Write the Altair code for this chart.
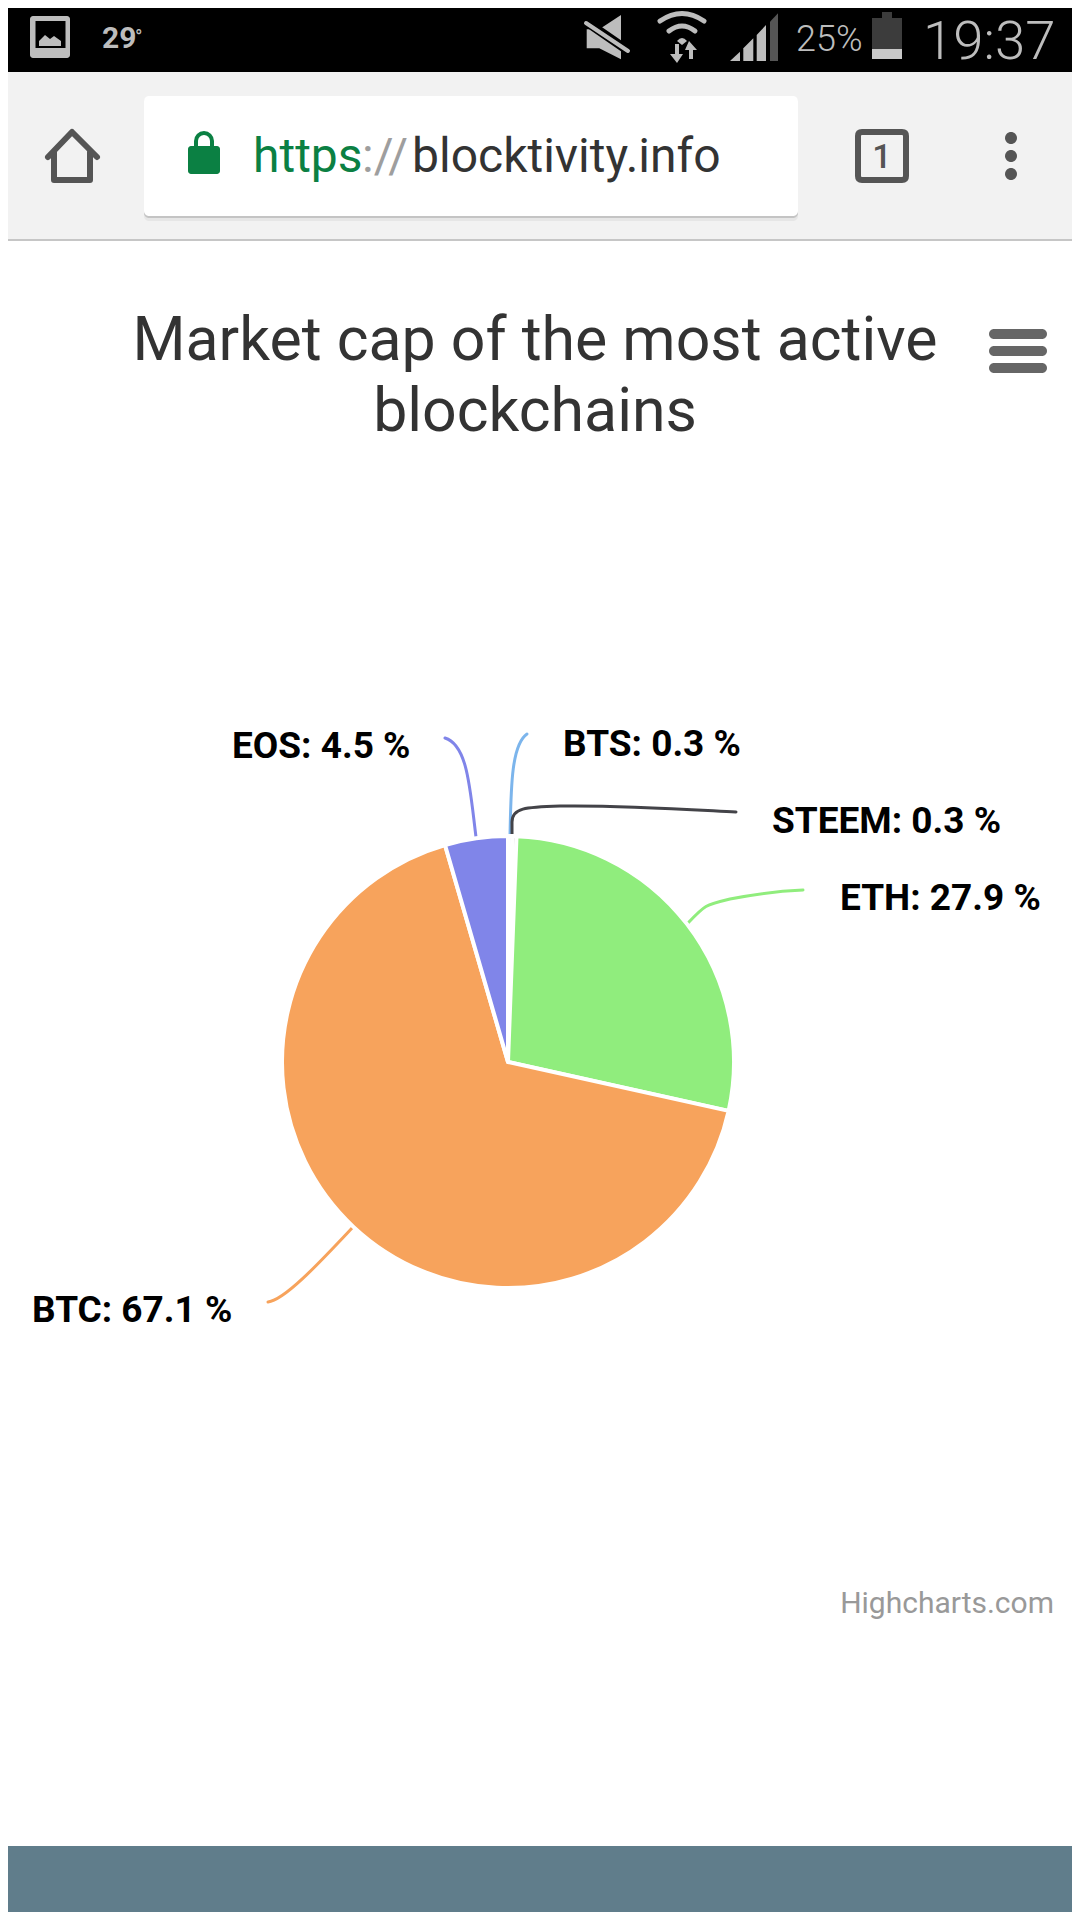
import altair as alt
import pandas as pd

# Chart values
names = ["BTS", "STEEM", "ETH", "BTC", "EOS"]
shares = [0.3, 0.3, 27.9, 67.1, 4.5]
colours = ["#7cb5ec", "#434348", "#90ed7d", "#f7a35c", "#8085e9"]

# Texts
title_lines = ["Market cap of the most active", "blockchains"]
credit = "Highcharts.com"

# Layout (pixels on the 1080x1920 page), separate from the data
M = 8  # the page's own margin: page pixel p is chart pixel p - M
CX, CY, R = 508, 1062, 226
label_pos = {
    "BTS": (563, 756), "STEEM": (772, 833), "ETH": (840, 910),
    "BTC": (32, 1322), "EOS": (232, 758),
}
slice_edge = [4, 4, 3, 3, 3]
connectors = {
    "BTS": "M510,836 C511,790 511,745 527,734",
    "STEEM": "M512,836 L512,822 C512,808 525,807 560,806 C620,805 680,809 736,812",
    "ETH": "M688,923 C705,905 705,905 730,899 C755,894 780,891 803,890",
    "BTC": "M353,1227 C320,1262 285,1300 268,1302",
    "EOS": "M476,837 C470,790 468,745 445,738",
}
GREY = "#bdbdbd"
ICON = "#555555"


def rect(x1, y1, x2, y2, colour, r=0):
    kw = {"cornerRadius": r} if r else {}
    return alt.Chart().mark_rect(color=colour, opacity=1, **kw).encode(
        x=alt.value(x1 - M), x2=alt.value(x2 - M), y=alt.value(y1 - M), y2=alt.value(y2 - M))


def fill(path, colour):
    # size=4 makes one path unit one page pixel
    return alt.Chart().mark_point(shape=path, size=4, filled=True, color=colour, opacity=1).encode(
        x=alt.value(-M), y=alt.value(-M))


def line(path, colour, w):
    return alt.Chart().mark_point(shape=path, size=4, filled=False, color=colour, opacity=1,
                                  strokeWidth=w, strokeCap="round", strokeJoin="round").encode(
        x=alt.value(-M), y=alt.value(-M))


def text(s, x, y, size, colour, weight=400, align="left"):
    return alt.Chart().mark_text(text=s, font="Roboto", fontSize=size, fontWeight=weight,
                                 color=colour, align=align, baseline="alphabetic").encode(
        x=alt.value(x - M), y=alt.value(y - M))


def z6(*pts):
    return "M" + " L".join(f"{560 + a / 3:.1f},{b / 3:.1f}" for a, b in pts) + " Z"


layers = []

# Page bands
layers += [
    rect(0, 0, 1080, 72, "#000000"),
    rect(0, 72, 1080, 240, "#f2f2f2"),
    rect(0, 239, 1080, 241, "#c6c6c6"),
    rect(0, 1846, 1080, 1920, "#607d8b"),
]

# Status bar, left
layers += [
    rect(30, 16, 70, 58, GREY, 3),
    rect(35.5, 21, 65.5, 48, "#000000"),
    fill("M39,46 L39,41 L45,35 L50,39 L54,36 L61,41 L61,46 Z", GREY),
    text("29", 102, 48, 30, GREY, 700),
    text("°", 135, 44, 20, GREY, 400),
]

# Status bar, right
layers += [
    fill(z6((80, 88), (118, 88), (183, 45), (183, 178), (118, 145), (80, 145)), GREY),
    line("M575,14 L630,52", "#000000", 9),
    line("M586,23 L628,51", GREY, 4),
    line("M660,21 Q682,6 704,21", GREY, 5),
    line("M669,31 Q682,21 695,31", GREY, 5),
    fill("M677,41 Q682,35 687,41 L682,45 Z", GREY),
    fill("M675,44 L679,44 L679,54 L683,54 L677,63 L670,54 L675,54 Z", GREY),
    fill("M685,50 L689,41 L697,50 L693,50 L693,59 L689,59 L689,50 Z", GREY),
    fill(z6((510, 183), (540, 155), (540, 183)), GREY),
    fill(z6((550, 183), (550, 145), (580, 115), (580, 183)), GREY),
    fill(z6((590, 183), (590, 105), (618, 75), (618, 183)), GREY),
    fill(z6((630, 183), (630, 65), (654, 40), (654, 183)), "#555555"),
    text("25%", 796, 51, 36, GREY, 300),
    rect(882, 12, 892, 18, "#3c3c3c"),
    rect(872, 18, 902, 49, "#3c3c3c"),
    rect(872, 49, 902, 59, "#c8c8c8"),
    text("19:37", 923, 59, 54.5, GREY, 300),
]

# Browser toolbar
layers += [
    line("M48,157 L72,132 L97,157 M54,152 L54,180 L90,180 L90,152", ICON, 6),
    rect(144, 98, 798, 221, "#e6e6e6", 5),
    rect(144, 97, 798, 218, "#c4c4c4", 5),
    rect(144, 96, 798, 216, "#ffffff", 5),
    rect(188, 146, 220, 174, "#0b8043", 3),
    line("M196,148 L196,141 A8,8 0 0 1 212,141 L212,148", "#0b8043", 4),
    text("https", 253, 172, 48, "#0b8043"),
    text("://", 362, 172, 48, "#9e9e9e"),
    text("blocktivity.info", 412, 172, 48, "#333333"),
    line("M858,136 Q858,132 862,132 L902,132 Q906,132 906,136 L906,176 Q906,180 902,180 L862,180 Q858,180 858,176 Z", ICON, 6),
    text("1", 882, 168, 34, ICON, 500, "center"),
]
for dot_y in (138, 156, 174):
    layers.append(fill(f"M1005,{dot_y} A6,6 0 1 1 1017,{dot_y} A6,6 0 1 1 1005,{dot_y} Z", ICON))

# Chart title, menu, credit
layers += [
    text(title_lines[0], 535, 360, 60.8, "#333333", 400, "center"),
    text(title_lines[1], 535, 431, 60.8, "#333333", 400, "center"),
    rect(989, 329, 1047, 339, "#666666", 5),
    rect(989, 346, 1047, 356, "#666666", 5),
    rect(989, 363, 1047, 373, "#666666", 5),
    text(credit, 1054, 1613, 30, "#999999", 400, "right"),
]

# Connectors
for n, c in zip(names, colours):
    layers.append(line(connectors[n], c, 3))

# Pie
pie = pd.DataFrame({"name": names, "share": shares, "idx": range(len(names))})
layers.append(
    alt.Chart(pie).mark_arc(outerRadius=R, stroke="#ffffff").encode(
        x=alt.value(CX - M), y=alt.value(CY - M),
        theta=alt.Theta("share:Q", stack=True),
        order=alt.Order("idx:Q"),
        color=alt.Color("name:N", scale=alt.Scale(domain=names, range=colours), legend=None),
        strokeWidth=alt.StrokeWidth("name:N", scale=alt.Scale(domain=names, range=slice_edge), legend=None),
    )
)

# Data labels
for n, v in zip(names, shares):
    px, py = label_pos[n]
    layers.append(text(f"{n}: {v} %", px, py, 37, "#000000", 700))

chart = alt.layer(*layers).properties(
    width=1064, height=1904, padding=0,
    autosize=alt.AutoSizeParams(type="none"),
    background="#ffffff",
).configure_view(stroke=None)

chart.save("out.html", embed_options={"renderer": "svg", "actions": False})
